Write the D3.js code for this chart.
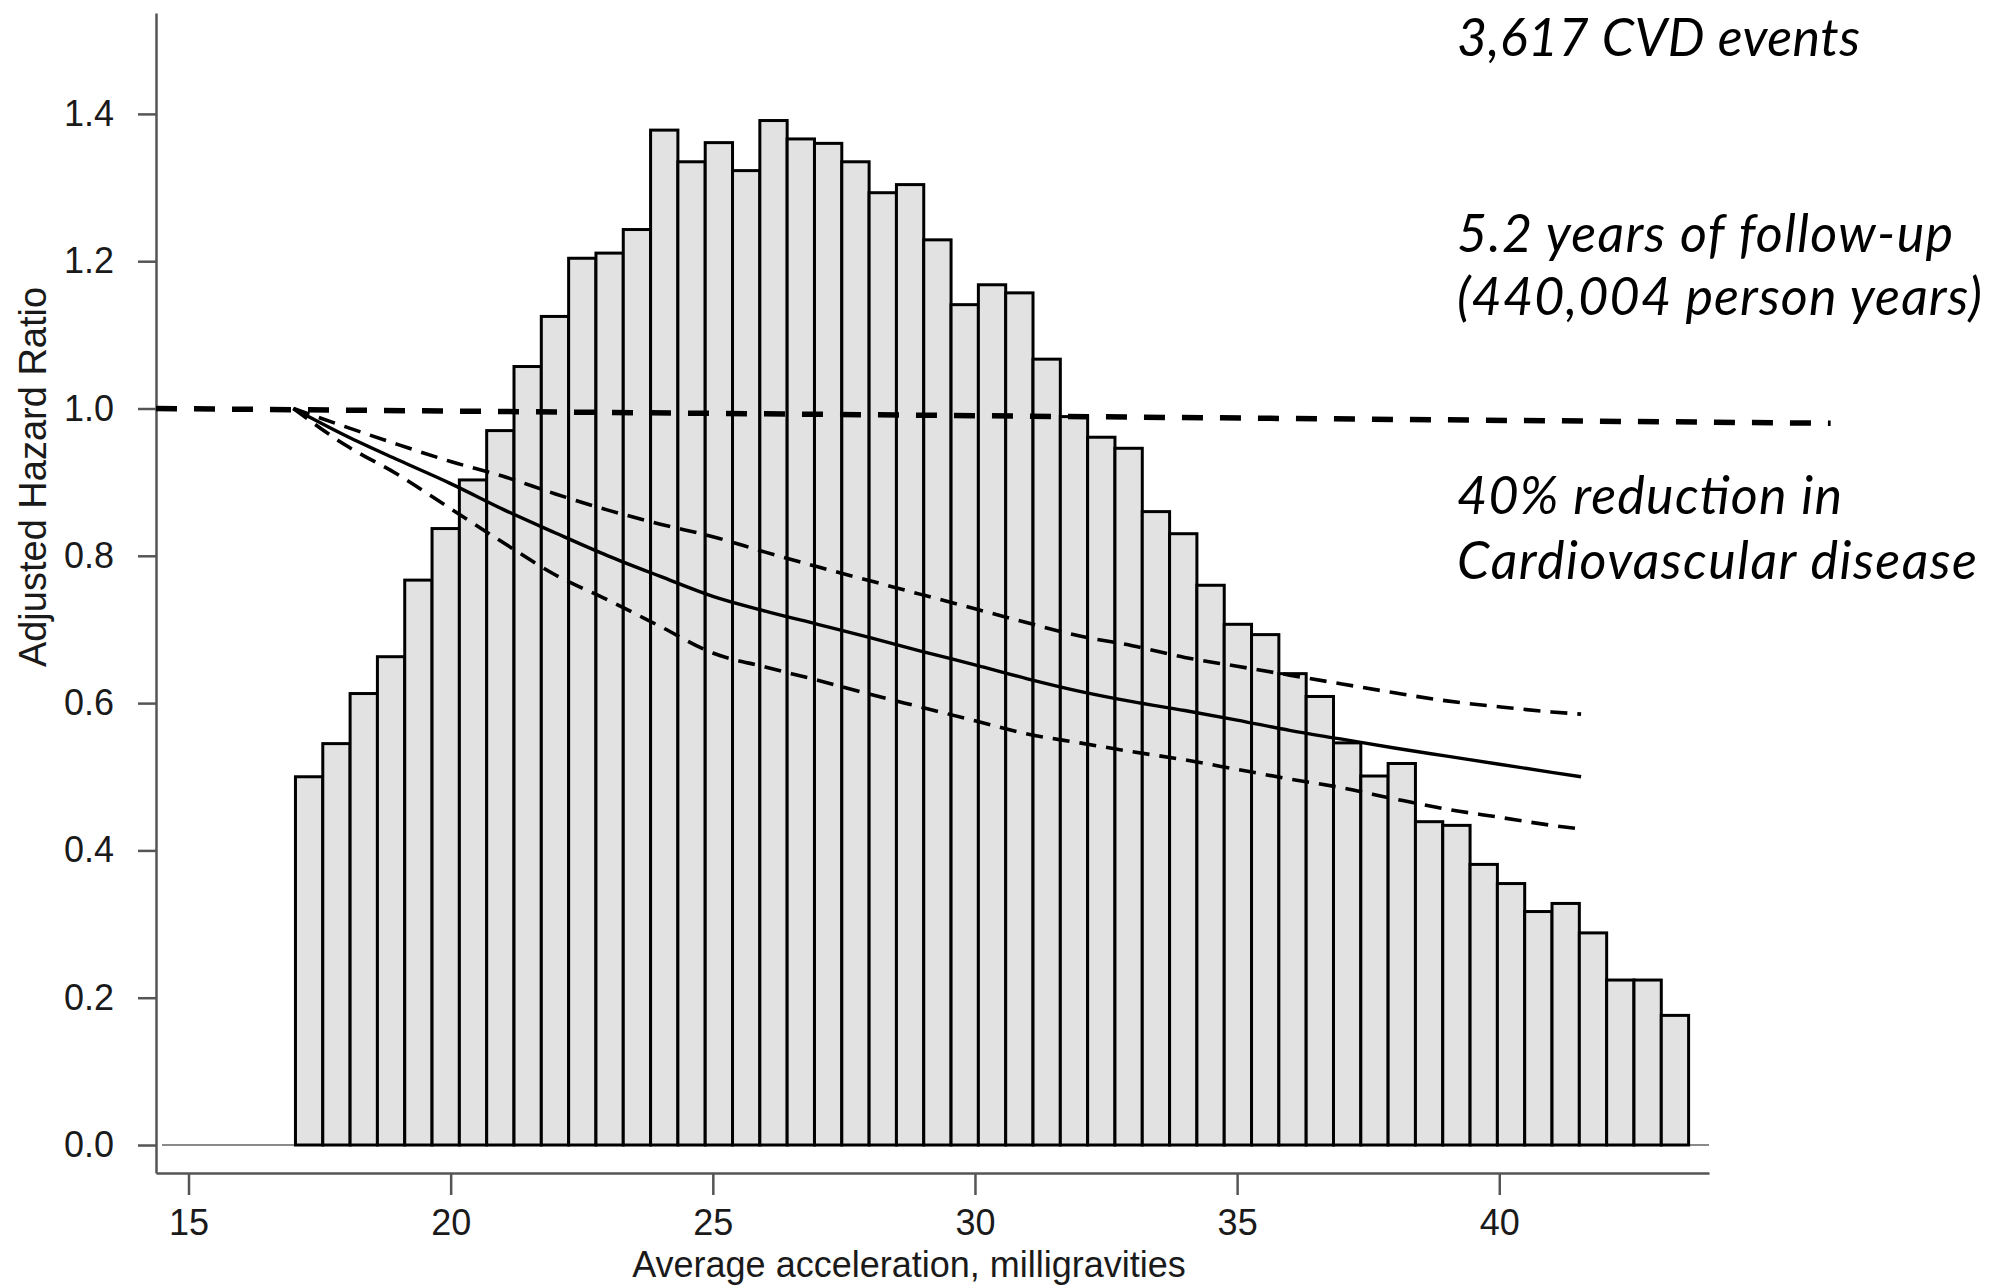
<!DOCTYPE html>
<html>
<head>
<meta charset="utf-8">
<script src="https://cdn.jsdelivr.net/npm/d3@7"></script>
<style>
  body { margin: 0; background: #fff; }
  svg text { font-family: "Liberation Sans", Arial, Helvetica, sans-serif; fill: #1a1a1a; }
  .note { font-family: Lato, "Open Sans", sans-serif; font-style: italic; fill: #000; }
</style>
</head>
<body>
<div id="chart"></div>
<script>
// ---- data ----
const xTicks = [15, 20, 25, 30, 35, 40];
const yTicks = [0, 0.2, 0.4, 0.6, 0.8, 1.0, 1.2, 1.4];

// histogram of average acceleration (bars drawn on the hazard-ratio scale)
const binStart = 17.04;
const binWidth = 0.521;
const binHeights = [
  0.500, 0.545, 0.613, 0.663, 0.767, 0.837, 0.903, 0.970, 1.057, 1.125,
  1.204, 1.211, 1.243, 1.378, 1.335, 1.361, 1.323, 1.391, 1.366, 1.360,
  1.335, 1.293, 1.304, 1.229, 1.141, 1.168, 1.157, 1.067, 0.989, 0.961,
  0.946, 0.860, 0.830, 0.760, 0.707, 0.693, 0.640, 0.609, 0.546, 0.501,
  0.518, 0.439, 0.434, 0.381, 0.355, 0.317, 0.328, 0.288, 0.224, 0.224,
  0.176
];

// adjusted hazard ratio curve and its confidence band
const hrX = [17, 18, 19, 20, 21, 22, 23, 24, 25, 26, 27, 28, 29, 30, 31, 32, 33, 34, 35, 36, 37, 38, 39, 40, 41, 41.56];
const hrEst = [1.000, 0.963, 0.930, 0.898, 0.863, 0.831, 0.800, 0.772, 0.745, 0.725, 0.707, 0.689, 0.670,
  0.652, 0.633, 0.616, 0.602, 0.590, 0.577, 0.563, 0.551, 0.539, 0.528, 0.517, 0.506, 0.500];
const hrUpper = [1.000, 0.975, 0.951, 0.928, 0.908, 0.884, 0.862, 0.843, 0.826, 0.805, 0.785, 0.766, 0.747,
  0.728, 0.709, 0.691, 0.678, 0.662, 0.650, 0.638, 0.626, 0.614, 0.603, 0.595, 0.588, 0.585];
const hrLower = [1.000, 0.950, 0.910, 0.864, 0.818, 0.774, 0.740, 0.704, 0.668, 0.649, 0.631, 0.612, 0.594,
  0.576, 0.558, 0.546, 0.534, 0.523, 0.510, 0.497, 0.485, 0.470, 0.456, 0.445, 0.434, 0.429];

// hand drawn reference line at HR = 1
const refX = [14.38, 46.32];
const refY = [1.0, 0.98];

const notes = [
  { text: '3,617 CVD events', line: 0 },
  { text: '5.2 years of follow-up', line: 1 },
  { text: '(440,004 person years)', line: 2 },
  { text: '40% reduction in', line: 3 },
  { text: 'Cardiovascular disease', line: 4 }
];

// ---- drawing ----
const config = {
  width: 2010,
  height: 1286,
  margin: { top: 13, right: 301, bottom: 113, left: 156 }
};

const svg = d3.select('#chart').append('svg')
  .attr('width', config.width)
  .attr('height', config.height);

const innerW = config.width - config.margin.left - config.margin.right;
const innerH = config.height - config.margin.top - config.margin.bottom;

const chart = svg.append('g')
  .attr('transform', `translate(${config.margin.left},${config.margin.top})`);

const x = d3.scaleLinear().domain([14.38, 44.0]).range([0, innerW]);
const y = d3.scaleLinear().domain([-0.038, 1.537]).range([innerH, 0]);

// zero line
chart.append('line')
  .attr('x1', 6).attr('x2', innerW)
  .attr('y1', y(0)).attr('y2', y(0))
  .attr('stroke', '#8a8a8a')
  .attr('stroke-width', 2);

// bars
const bins = binHeights.map((h, i) => ({ x0: binStart + i * binWidth, x1: binStart + (i + 1) * binWidth, h }));
chart.selectAll('.bar')
  .data(bins)
  .join('rect')
  .attr('class', 'bar')
  .attr('x', d => x(d.x0))
  .attr('width', d => x(d.x1) - x(d.x0))
  .attr('y', d => y(d.h))
  .attr('height', d => y(0) - y(d.h))
  .attr('fill', '#e2e2e2')
  .attr('stroke', '#000')
  .attr('stroke-width', 3);

// axes
const yAxis = d3.axisLeft(y).tickValues(yTicks).tickFormat(d3.format('.1f'))
  .tickSize(18).tickSizeOuter(0).tickPadding(24);
const xAxis = d3.axisBottom(x).tickValues(xTicks).tickFormat(d3.format('d'))
  .tickSize(22).tickSizeOuter(0).tickPadding(14);

const gy = chart.append('g').call(yAxis);
const gx = chart.append('g').attr('transform', `translate(0,${innerH})`).call(xAxis);
[gy, gx].forEach(g => {
  g.select('.domain').attr('stroke', '#555').attr('stroke-width', 2.5);
  g.selectAll('.tick line').attr('stroke', '#555').attr('stroke-width', 2.5);
  g.selectAll('.tick text').attr('fill', '#1a1a1a')
    .style('font-family', '"Liberation Sans", Arial, sans-serif')
    .style('font-size', '36px');
});

// axis titles
svg.append('text')
  .attr('transform', `translate(46,477) rotate(-90)`)
  .attr('text-anchor', 'middle')
  .style('font-size', '38px')
  .text('Adjusted Hazard Ratio');

svg.append('text')
  .attr('x', 909)
  .attr('y', 1277)
  .attr('text-anchor', 'middle')
  .style('font-size', '36px')
  .text('Average acceleration, milligravities');

// hazard ratio curves
const line = d3.line()
  .x(d => x(d[0]))
  .y(d => y(d[1]))
  .curve(d3.curveMonotoneX);

chart.append('path')
  .datum(hrX.map((v, i) => [v, hrUpper[i]]))
  .attr('d', line)
  .attr('fill', 'none')
  .attr('stroke', '#000')
  .attr('stroke-width', 3.6)
  .attr('stroke-dasharray', '17,10');

chart.append('path')
  .datum(hrX.map((v, i) => [v, hrLower[i]]))
  .attr('d', line)
  .attr('fill', 'none')
  .attr('stroke', '#000')
  .attr('stroke-width', 3.6)
  .attr('stroke-dasharray', '17,10');

chart.append('path')
  .datum(hrX.map((v, i) => [v, hrEst[i]]))
  .attr('d', line)
  .attr('fill', 'none')
  .attr('stroke', '#000')
  .attr('stroke-width', 3.4);

// reference line
chart.append('path')
  .datum(refX.map((v, i) => [v, refY[i]]))
  .attr('d', d3.line().x(d => x(d[0])).y(d => y(d[1])))
  .attr('fill', 'none')
  .attr('stroke', '#000')
  .attr('stroke-width', 5.5)
  .attr('stroke-dasharray', '21,17');

// annotation text on the right
const noteBase = [56, 252, 315, 514, 579];
const noteWidth = [403, 496, 525, 385, 520];
svg.selectAll('.note')
  .data(notes)
  .join('text')
  .attr('class', 'note')
  .attr('x', 1457)
  .attr('y', d => noteBase[d.line])
  .attr('textLength', d => noteWidth[d.line])
  .style('font-size', '52px')
  .text(d => d.text);
</script>
</body>
</html>
